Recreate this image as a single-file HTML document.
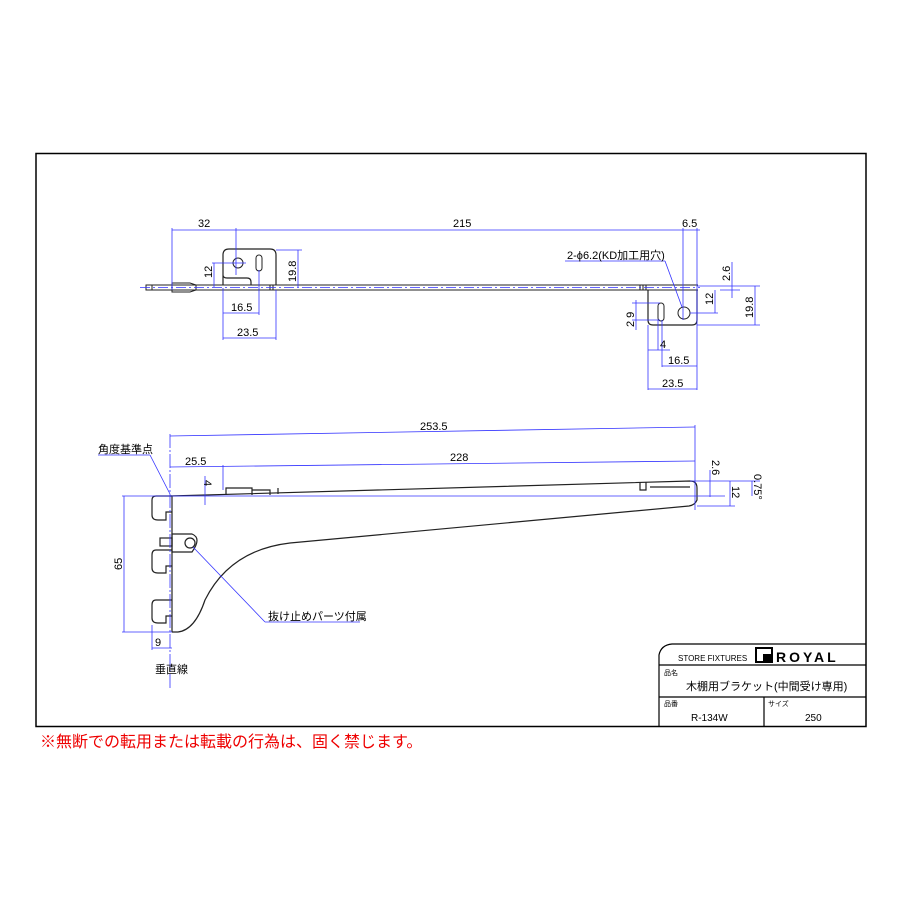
<!DOCTYPE html>
<html><head><meta charset="utf-8"><style>
body{margin:0;background:#fff}
svg{display:block}
text{font-family:"Liberation Sans","Noto Sans CJK JP",sans-serif}
</style></head><body>
<svg width="900" height="900" viewBox="0 0 900 900" xmlns="http://www.w3.org/2000/svg">
<rect x="36" y="153.5" width="830" height="573" fill="none" stroke="#000" stroke-width="1.5"/>
<!-- TOP VIEW -->
<g fill="none" stroke="#222" stroke-width="1">
<line x1="150" y1="285" x2="698" y2="285"/>
<line x1="150" y1="290" x2="698" y2="290"/>
<rect x="146" y="285" width="6" height="5"/>
<path d="M172 283 h18 l6 2 v5 l-6 2 h-18 z"/>
<path d="M223 285 v-30 q0-6 6-6 h41 q6 0 6 6 v30 M223 275 q0 3 4 3 h20 q4 0 4 4 v3" stroke-width="1.2"/>
<circle cx="238" cy="263" r="5"/>
<rect x="256" y="255" width="6" height="16" rx="3"/>
<path d="M648 290 v30 q0 5 5 5 h39 q5 0 5 -5 v-30" stroke-width="1.2"/>
<circle cx="684" cy="313" r="6"/>
<rect x="658" y="303" width="6" height="18" rx="3"/>
<line x1="640" y1="285" x2="640" y2="290"/><line x1="643" y1="285" x2="643" y2="290"/><line x1="646" y1="285" x2="646" y2="290"/>
<line x1="270" y1="285" x2="270" y2="290"/><line x1="273" y1="285" x2="273" y2="290"/>
</g>
<g fill="none" stroke="#33f" stroke-width="0.8">
<line x1="140" y1="287.5" x2="700" y2="287.5" stroke-dasharray="10 3 2 3"/>
<line x1="172" y1="228" x2="172" y2="290"/><line x1="172" y1="230" x2="700" y2="230"/>
<line x1="236" y1="228" x2="236" y2="275"/>
<line x1="683" y1="228" x2="683" y2="320"/><line x1="697" y1="228" x2="697" y2="390"/>
<line x1="276" y1="250" x2="302" y2="250"/><line x1="298" y1="250" x2="298" y2="287"/>
<line x1="212" y1="263" x2="246" y2="263"/><line x1="214" y1="263" x2="214" y2="287"/>
<line x1="223" y1="288" x2="223" y2="340"/><line x1="259" y1="270" x2="259" y2="315"/><line x1="276" y1="290" x2="276" y2="340"/>
<line x1="223" y1="313" x2="259" y2="313"/><line x1="223" y1="338" x2="276" y2="338"/>
<line x1="697" y1="325" x2="760" y2="325"/><line x1="755" y1="286" x2="755" y2="325"/><line x1="697" y1="286" x2="760" y2="286"/>
<line x1="690" y1="313" x2="718" y2="313"/><line x1="715" y1="290" x2="715" y2="313"/>
<line x1="732" y1="262" x2="732" y2="298"/><line x1="720" y1="290" x2="740" y2="290"/>
<line x1="632" y1="303" x2="660" y2="303"/><line x1="632" y1="320" x2="660" y2="320"/><line x1="636" y1="300" x2="636" y2="330"/>
<line x1="648" y1="325" x2="648" y2="390"/><line x1="658" y1="320" x2="658" y2="350"/><line x1="662" y1="320" x2="662" y2="367"/>
<line x1="648" y1="350" x2="670" y2="350"/><line x1="662" y1="366" x2="697" y2="366"/><line x1="648" y1="389" x2="697" y2="389"/>
<line x1="565" y1="261" x2="665" y2="261"/><line x1="665" y1="261" x2="682" y2="307"/>
</g>
<g font-size="11" fill="#000">
<text x="198" y="227">32</text><text x="453" y="227">215</text><text x="682" y="227">6.5</text>
<text x="231" y="311">16.5</text><text x="237" y="336">23.5</text>
<text x="567" y="259">2-ϕ6.2(KD加工用穴)</text>
<text x="660" y="348">4</text><text x="668" y="364">16.5</text><text x="662" y="387">23.5</text>
<text transform="translate(212,278) rotate(-90)">12</text>
<text transform="translate(296,282) rotate(-90)">19.8</text>
<text transform="translate(713,305) rotate(-90)">12</text>
<text transform="translate(753,318) rotate(-90)">19.8</text>
<text transform="translate(730,281) rotate(-90)">2.6</text>
<text transform="translate(634,327) rotate(-90)">2 9</text>
</g>
<!-- SIDE VIEW -->
<g fill="none" stroke="#222" stroke-width="1.2">
<path d="M170 496 L690 481 Q697 481 697 488 V500 Q695 505 689 506 L290 543 Q230 550 205 600 Q195 630 178 632 H172"/>
<path d="M226 495 V488 H252 V495 M252 490 H270 V495 M278 494 V488 M640 482 V490 H646 V482 M650 487 H690"/>
<path d="M172 496 H156 Q152 496 152 500 V515 Q152 520 158 520 H166 V512 H172"/>
<path d="M172 550 H156 Q152 550 152 555 V568 Q152 573 158 573 H166 V566 H172"/>
<path d="M172 600 H156 Q152 600 152 605 V618 Q152 623 158 623 H166 V616 H172"/>
<line x1="172" y1="496" x2="172" y2="632"/>
<path d="M172 534 H192 Q202 538 192 552 H172 Z"/>
<circle cx="190" cy="543" r="5"/>
<rect x="160" y="538" width="12" height="8"/>
</g>
<g fill="none" stroke="#33f" stroke-width="0.8">
<line x1="170" y1="434" x2="170" y2="690" stroke-dasharray="14 2 2 2"/>
<line x1="170" y1="436" x2="695" y2="427"/><line x1="695" y1="425" x2="695" y2="510"/>
<line x1="170" y1="467" x2="695" y2="461"/><line x1="223" y1="465" x2="223" y2="490"/>
<line x1="122" y1="496" x2="725" y2="496"/><line x1="122" y1="632" x2="172" y2="632"/><line x1="124" y1="496" x2="124" y2="632"/>
<line x1="152" y1="625" x2="152" y2="650"/><line x1="152" y1="648" x2="172" y2="648"/>
<line x1="205" y1="476" x2="205" y2="505"/>
<line x1="690" y1="481" x2="760" y2="481"/><line x1="697" y1="506" x2="735" y2="506"/>
<line x1="710" y1="470" x2="710" y2="497"/><line x1="730" y1="481" x2="730" y2="506"/><line x1="752" y1="481" x2="752" y2="496"/>
<line x1="98" y1="455" x2="150" y2="455"/><line x1="150" y1="455" x2="170" y2="494"/>
<line x1="193" y1="547" x2="265" y2="622"/><line x1="265" y1="622" x2="360" y2="622"/>
</g>
<g font-size="11" fill="#000">
<text x="420" y="430">253.5</text><text x="185" y="465">25.5</text><text x="450" y="461">228</text>
<text x="98" y="453">角度基準点</text><text x="268" y="620">抜け止めパーツ付属</text>
<text x="155" y="646">9</text><text x="155" y="673">垂直線</text>
<text transform="translate(122,570) rotate(-90)">65</text>
<text transform="translate(204,480) rotate(90)">4</text>
<text transform="translate(712,460) rotate(90)">2.6</text>
<text transform="translate(732,486) rotate(90)">12</text>
<text transform="translate(754,474) rotate(90)">0.75°</text>
</g>
<!-- TITLE BLOCK -->
<g fill="none" stroke="#000" stroke-width="1.2">
<path d="M659 727 V655 Q661 645 672 644 H866"/>
<line x1="659" y1="665" x2="866" y2="665"/><line x1="659" y1="697" x2="866" y2="697"/>
<line x1="764" y1="697" x2="764" y2="727"/>
</g>
<rect x="756" y="648" width="16" height="14" fill="none" stroke="#000" stroke-width="2"/>
<rect x="763" y="654" width="9" height="8" fill="#000"/>
<g fill="#000">
<text x="678" y="661" font-size="8">STORE FIXTURES</text>
<text x="776" y="662" font-size="14" font-weight="bold" letter-spacing="3">ROYAL</text>
<text x="664" y="675" font-size="7">品名</text>
<text x="686" y="690" font-size="11">木棚用ブラケット(中間受け専用)</text>
<text x="664" y="706" font-size="7">品番</text><text x="768" y="706" font-size="7">サイズ</text>
<text x="691" y="721" font-size="10">R-134W</text><text x="805" y="721" font-size="10">250</text>
</g>
<text x="40" y="747" font-size="16" fill="#e00">※無断での転用または転載の行為は、固く禁じます。</text>
</svg>
</body></html>
